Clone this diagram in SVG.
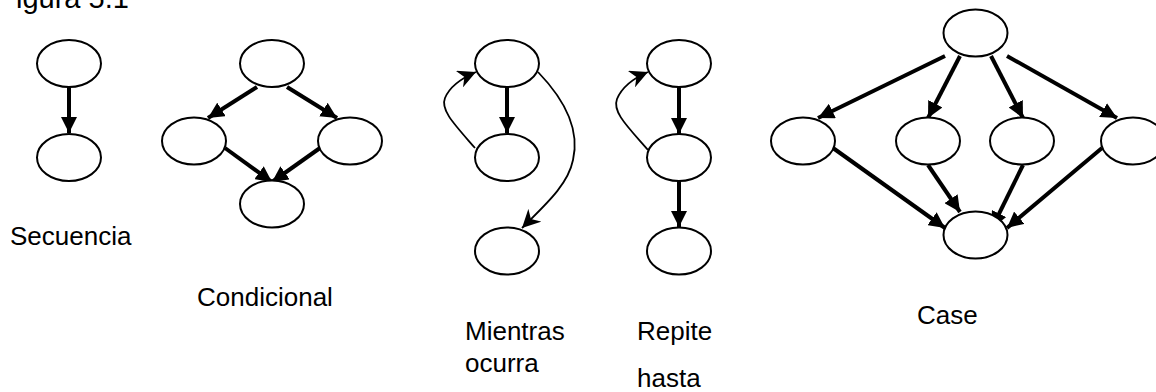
<svg xmlns="http://www.w3.org/2000/svg" width="1156" height="392" viewBox="0 0 1156 392">
<defs>
<style>
.n{fill:#fff;stroke:#000;stroke-width:2}
.e{fill:none;stroke:#000;stroke-width:4}
.t{fill:none;stroke:#000;stroke-width:1.8}
.l{font-family:"Liberation Sans",Arial,sans-serif;font-size:26px;fill:#000}
</style>
<marker id="a" viewBox="0 0 10 10" refX="10" refY="5" markerWidth="4" markerHeight="4" markerUnits="strokeWidth" orient="auto"><path d="M0,0L10,5L0,10z" fill="#000"/></marker>
<marker id="b" viewBox="0 0 10 10" refX="10" refY="5" markerWidth="10" markerHeight="10" markerUnits="strokeWidth" orient="auto"><path d="M0,0L10,5L0,10L3,5z" fill="#000"/></marker>
</defs>
<rect width="1156" height="392" fill="#fff"/>
<text class="l" x="16" y="8" style="font-size:29px">igura 5.1</text>
<g id="connectors">
<line class="e" x1="69" y1="87" x2="69" y2="133" marker-end="url(#a)"/>
<line class="e" x1="257" y1="87" x2="208" y2="118" marker-end="url(#a)"/>
<line class="e" x1="287" y1="87" x2="337" y2="118" marker-end="url(#a)"/>
<line class="e" x1="225" y1="148" x2="272" y2="182" marker-end="url(#a)"/>
<line class="e" x1="320" y1="148" x2="272" y2="182" marker-end="url(#a)"/>
<line class="e" x1="507" y1="87" x2="507" y2="133" marker-end="url(#a)"/>
<path class="t" d="M475,148 C455,125 440,110 445,98 C450,86 462,78 476,72" marker-end="url(#b)"/>
<path class="t" d="M538,72 C565,100 580,130 573,160 C568,185 545,205 522,228" marker-end="url(#b)"/>
<line class="e" x1="679" y1="87" x2="679" y2="134" marker-end="url(#a)"/>
<line class="e" x1="679" y1="181" x2="679" y2="227" marker-end="url(#a)"/>
<path class="t" d="M648,150 C628,127 612,112 617,99 C622,87 634,78 648,72" marker-end="url(#b)"/>
<line class="e" x1="945" y1="56" x2="818" y2="118" marker-end="url(#a)"/>
<line class="e" x1="960" y1="56" x2="928" y2="118" marker-end="url(#a)"/>
<line class="e" x1="991" y1="56" x2="1023" y2="118" marker-end="url(#a)"/>
<line class="e" x1="1007" y1="56" x2="1117" y2="118" marker-end="url(#a)"/>
<line class="e" x1="833" y1="148" x2="945" y2="228" marker-end="url(#a)"/>
<line class="e" x1="928" y1="165" x2="960" y2="212" marker-end="url(#a)"/>
<line class="e" x1="1023" y1="165" x2="992" y2="228" marker-end="url(#a)"/>
<line class="e" x1="1102" y1="148" x2="1007" y2="228" marker-end="url(#a)"/>
</g>
<g id="secuencia-1"><ellipse class="n" cx="69" cy="63.5" rx="32" ry="23.5"/></g>
<g id="secuencia-2"><ellipse class="n" cx="69" cy="157.5" rx="32" ry="23.5"/></g>
<g id="cond-top"><ellipse class="n" cx="272" cy="63.5" rx="32" ry="23.5"/></g>
<g id="cond-left"><ellipse class="n" cx="194" cy="141" rx="32" ry="23.5"/></g>
<g id="cond-right"><ellipse class="n" cx="350" cy="141" rx="32" ry="23.5"/></g>
<g id="cond-bottom"><ellipse class="n" cx="272" cy="204" rx="32" ry="23.5"/></g>
<g id="mientras-1"><ellipse class="n" cx="507" cy="63.5" rx="32" ry="23.5"/></g>
<g id="mientras-2"><ellipse class="n" cx="507" cy="157.5" rx="32" ry="23.5"/></g>
<g id="mientras-3"><ellipse class="n" cx="507" cy="251" rx="32" ry="23.5"/></g>
<g id="repite-1"><ellipse class="n" cx="679" cy="63.5" rx="32" ry="23.5"/></g>
<g id="repite-2"><ellipse class="n" cx="679" cy="157.5" rx="32" ry="23.5"/></g>
<g id="repite-3"><ellipse class="n" cx="679" cy="251" rx="32" ry="23.5"/></g>
<g id="case-top"><ellipse class="n" cx="975.5" cy="33" rx="32" ry="23.5"/></g>
<g id="case-1"><ellipse class="n" cx="803" cy="141" rx="32" ry="23.5"/></g>
<g id="case-2"><ellipse class="n" cx="928" cy="141" rx="32" ry="23.5"/></g>
<g id="case-3"><ellipse class="n" cx="1022" cy="141" rx="32" ry="23.5"/></g>
<g id="case-4"><ellipse class="n" cx="1133" cy="141" rx="32" ry="23.5"/></g>
<g id="case-bottom"><ellipse class="n" cx="975.5" cy="235" rx="32" ry="23.5"/></g>
<g id="labels">
<text class="l" x="10" y="245">Secuencia</text>
<text class="l" x="197" y="306">Condicional</text>
<text class="l" x="465" y="340">Mientras</text>
<text class="l" x="465" y="372">ocurra</text>
<text class="l" x="637" y="340">Repite</text>
<text class="l" x="637" y="387">hasta</text>
<text class="l" x="917" y="324">Case</text>
</g>
</svg>
